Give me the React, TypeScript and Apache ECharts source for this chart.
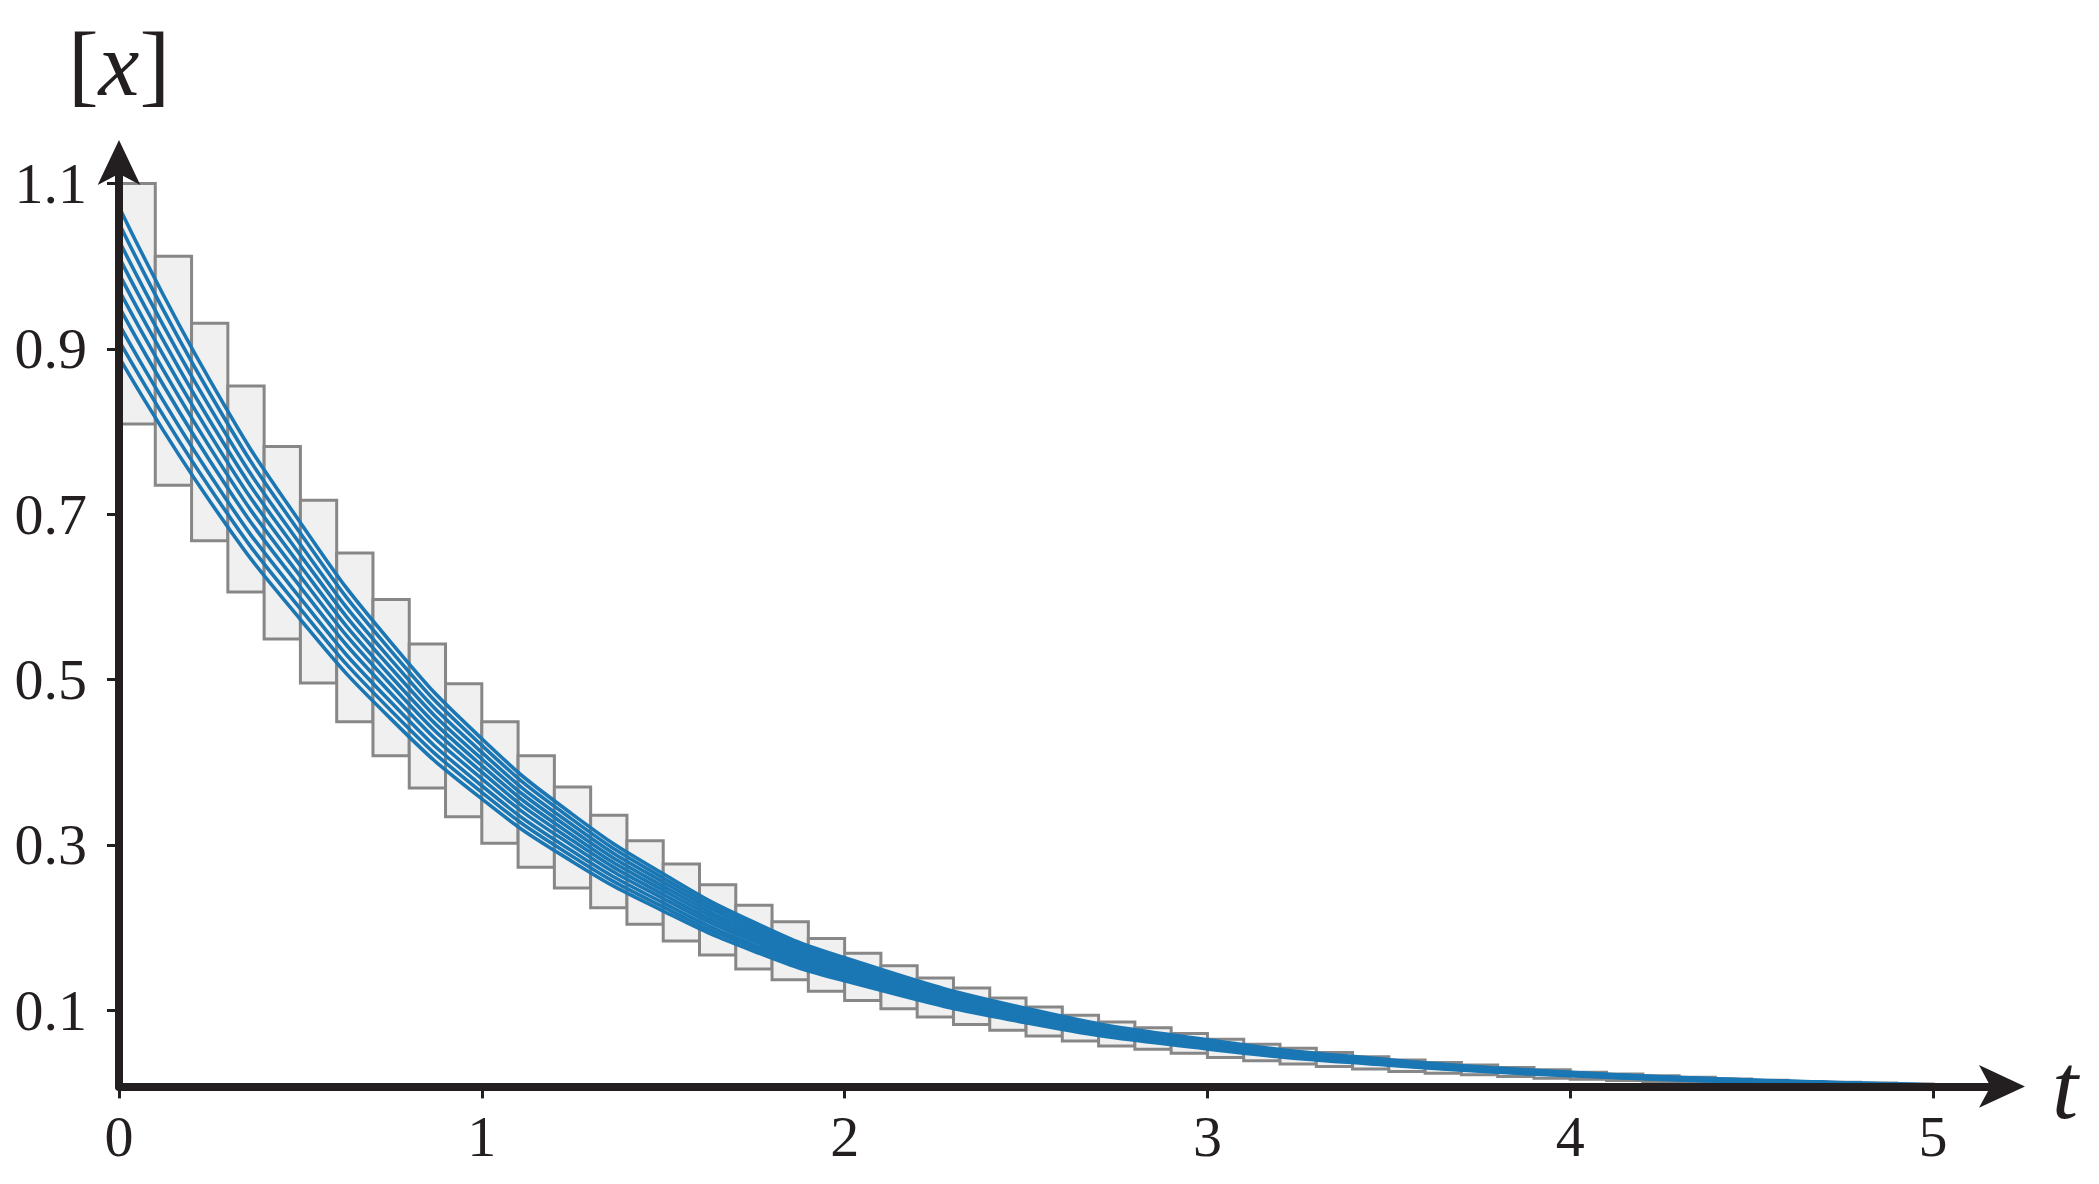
import React, { useEffect, useRef } from 'react';
import * as echarts from 'echarts';

// time samples for the trajectories
const curveT = [0, 0.25, 0.5, 0.75, 1, 1.25, 1.5, 1.75, 2, 2.5, 3, 3.5, 4, 4.5, 5];

// ten trajectories, lowest to highest initial value
const curve0 = [0.890, 0.7160, 0.5727, 0.4522, 0.3557, 0.2798, 0.2201, 0.1715, 0.1357, 0.0850, 0.0534, 0.0335, 0.0209, 0.0131, 0.0082];
const curve1 = [0.910, 0.7321, 0.5856, 0.4624, 0.3637, 0.2861, 0.2250, 0.1754, 0.1388, 0.0869, 0.0546, 0.0342, 0.0214, 0.0134, 0.0084];
const curve2 = [0.930, 0.7481, 0.5984, 0.4725, 0.3716, 0.2923, 0.2300, 0.1792, 0.1418, 0.0888, 0.0558, 0.0350, 0.0219, 0.0137, 0.0086];
const curve3 = [0.951, 0.7650, 0.6119, 0.4832, 0.3800, 0.2990, 0.2352, 0.1833, 0.1450, 0.0908, 0.0570, 0.0358, 0.0224, 0.0140, 0.0088];
const curve4 = [0.971, 0.7812, 0.6248, 0.4934, 0.3880, 0.3053, 0.2401, 0.1871, 0.1481, 0.0928, 0.0582, 0.0365, 0.0228, 0.0143, 0.0090];
const curve5 = [0.991, 0.7972, 0.6377, 0.5035, 0.3960, 0.3115, 0.2451, 0.1910, 0.1511, 0.0947, 0.0594, 0.0373, 0.0233, 0.0146, 0.0092];
const curve6 = [1.011, 0.8133, 0.6506, 0.5137, 0.4040, 0.3178, 0.2500, 0.1948, 0.1542, 0.0966, 0.0606, 0.0380, 0.0238, 0.0149, 0.0093];
const curve7 = [1.031, 0.8295, 0.6634, 0.5239, 0.4120, 0.3241, 0.2550, 0.1987, 0.1573, 0.0985, 0.0618, 0.0388, 0.0242, 0.0152, 0.0095];
const curve8 = [1.052, 0.8463, 0.6769, 0.5345, 0.4204, 0.3307, 0.2601, 0.2027, 0.1604, 0.1005, 0.0631, 0.0395, 0.0247, 0.0155, 0.0097];
const curve9 = [1.072, 0.8624, 0.6898, 0.5447, 0.4284, 0.3370, 0.2651, 0.2066, 0.1635, 0.1024, 0.0643, 0.0403, 0.0252, 0.0158, 0.0099];
const curves = [curve0, curve1, curve2, curve3, curve4, curve5, curve6, curve7, curve8, curve9];

// enclosure boxes, one per time step of width 0.1 (t from 0 to 5)
const binWidth = 0.1;
const boxUpper = [
  1.100, 1.012, 0.931, 0.855, 0.782, 0.717, 0.653, 0.597, 0.543, 0.495,
  0.449, 0.408, 0.370, 0.336, 0.305, 0.277, 0.252, 0.227, 0.207, 0.187,
  0.169, 0.154, 0.139, 0.127, 0.115, 0.104, 0.094, 0.086, 0.079, 0.072,
  0.065, 0.059, 0.054, 0.049, 0.044, 0.040, 0.037, 0.034, 0.031, 0.028,
  0.025, 0.023, 0.021, 0.019, 0.017, 0.0155, 0.014, 0.013, 0.012, 0.011,
];
const boxLower = [
  0.809, 0.735, 0.668, 0.606, 0.549, 0.496, 0.449, 0.408, 0.369, 0.334,
  0.302, 0.273, 0.248, 0.224, 0.204, 0.184, 0.167, 0.150, 0.137, 0.123,
  0.112, 0.102, 0.092, 0.083, 0.076, 0.069, 0.063, 0.057, 0.053, 0.048,
  0.043, 0.039, 0.035, 0.032, 0.029, 0.026, 0.024, 0.022, 0.020, 0.018,
  0.0165, 0.015, 0.0138, 0.0127, 0.0117, 0.0108, 0.0100, 0.0093, 0.0087, 0.0082,
];

const yTicks = [0.1, 0.3, 0.5, 0.7, 0.9, 1.1];
const xTicks = [0, 1, 2, 3, 4, 5];

const INK = '#231f20';
const FONT = '"Liberation Serif", "DejaVu Serif", serif';

export default function App() {
  const ref = useRef<HTMLDivElement>(null);

  useEffect(() => {
    document.body.style.margin = '0';
    document.body.style.overflow = 'hidden';
    if (!ref.current) return;
    const chart = echarts.init(ref.current, undefined, { renderer: 'svg' });

    const boxData = boxUpper.map((u, i) => [i * binWidth, (i + 1) * binWidth, boxLower[i], u]);

    const lineSeries = curves.map((c, j) => ({
      type: 'line',
      name: 'x' + j,
      data: curveT.map((t, k) => [t, c[k]]),
      showSymbol: false,
      symbol: 'none',
      smooth: 0.5,
      lineStyle: { color: '#1a77b4', width: 3.6 },
      z: 3,
    }));

    chart.setOption({
      animation: false,
      backgroundColor: '#ffffff',
      grid: {
        left: 119,
        right: 97,
        top: 162,
        bottom: 97.6,
        containLabel: false,
        outerBoundsMode: 'none',
      },
      xAxis: {
        type: 'value',
        min: 0,
        max: 5.19,
        z: 10,
        name: 't',
        nameLocation: 'end',
        nameGap: 50,
        nameTextStyle: {
          fontFamily: FONT,
          fontStyle: 'italic',
          fontSize: 94,
          color: INK,
          verticalAlign: 'middle',
          align: 'left',
        },
        axisLine: {
          show: true,
          symbol: ['none', 'arrow'],
          symbolSize: [32, 46],
          symbolOffset: [0, 23],
          lineStyle: { color: INK, width: 8 },
        },
        axisTick: {
          show: true,
          customValues: xTicks,
          length: 12,
          lineStyle: { color: INK, width: 3 },
        },
        axisLabel: {
          customValues: xTicks,
          fontFamily: FONT,
          fontSize: 58,
          color: INK,
          margin: 50,
          verticalAlign: 'middle',
          formatter: (v: number) => String(v),
        },
        splitLine: { show: false },
      },
      yAxis: {
        type: 'value',
        min: 0.008,
        max: 1.126,
        z: 10,
        name: '{b|[}{i|x}{b|]}',
        nameLocation: 'end',
        nameGap: 98,
        nameTextStyle: {
          align: 'center',
          verticalAlign: 'middle',
          color: INK,
          rich: {
            b: { fontFamily: FONT, fontSize: 92, color: INK },
            i: { fontFamily: FONT, fontSize: 92, fontStyle: 'italic', color: INK },
          },
        },
        axisLine: {
          show: true,
          symbol: ['none', 'arrow'],
          symbolSize: [32, 45],
          symbolOffset: [0, 22],
          lineStyle: { color: INK, width: 8 },
        },
        axisTick: {
          show: true,
          customValues: yTicks,
          length: 12,
          lineStyle: { color: INK, width: 3 },
        },
        axisLabel: {
          customValues: yTicks,
          fontFamily: FONT,
          fontSize: 58,
          color: INK,
          margin: 32,
          formatter: (v: number) => v.toFixed(1),
        },
        splitLine: { show: false },
      },
      series: [
        {
          type: 'custom',
          name: 'boxes',
          data: boxData,
          encode: { x: [0, 1], y: [2, 3] },
          z: 2,
          renderItem: (params: any, api: any) => {
            const p1 = api.coord([api.value(0), api.value(3)]);
            const p2 = api.coord([api.value(1), api.value(2)]);
            return {
              type: 'rect',
              shape: { x: p1[0], y: p1[1], width: p2[0] - p1[0], height: p2[1] - p1[1] },
              style: { fill: '#f0f0f0', stroke: '#878787', lineWidth: 3 },
            };
          },
        },
        ...lineSeries,
      ],
    });

    return () => {
      chart.dispose();
    };
  }, []);

  return <div ref={ref} style={{ width: 2099, height: 1184 }} />;
}
